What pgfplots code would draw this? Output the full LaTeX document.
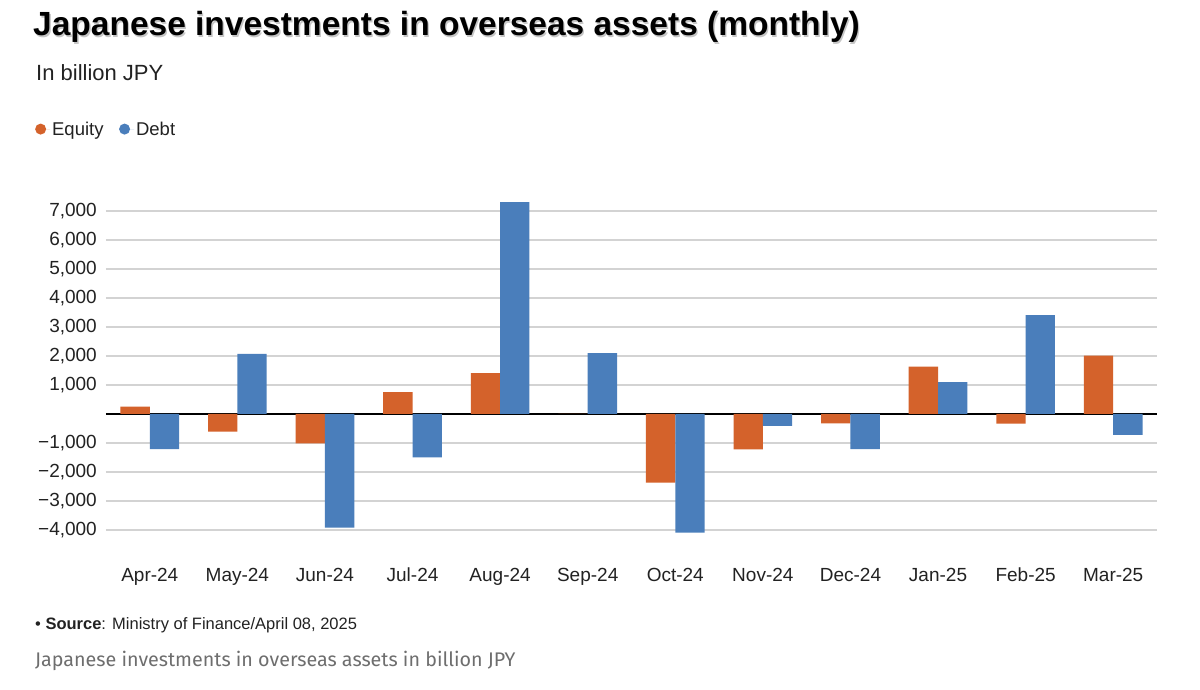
\documentclass[border=0pt]{standalone}
\usepackage{pgfplots}
\pgfplotsset{compat=1.18}
\usepackage{fontspec}
\setmainfont{Liberation Sans}
\newfontfamily\capfont{Fira Sans}
\definecolor{eqc}{HTML}{D4622B}
\definecolor{dbc}{HTML}{4A7EBB}
\definecolor{gridc}{HTML}{D3D3D3}
\definecolor{txt}{HTML}{222222}
\definecolor{capc}{HTML}{6E6E6E}
\begin{document}
\begin{tikzpicture}[x=1pt,y=1pt]
\fill[white] (0,0) rectangle (1200,690);
% title and texts
\node[anchor=base west,inner sep=0pt,text=gray!45] at (34.3,652.7) {\fontsize{33.5}{40}\selectfont\bfseries Japanese investments in overseas assets (monthly)};
\node[anchor=base west,inner sep=0pt,text=black] at (33,654) {\fontsize{33.5}{40}\selectfont\bfseries Japanese investments in overseas assets (monthly)};
\node[anchor=base west,inner sep=0pt,text=txt] at (36,609) {\fontsize{22}{26}\selectfont In billion JPY};
\node[anchor=base west,inner sep=0pt,text=txt] at (35,60) {\fontsize{16.5}{20}\selectfont \textbullet\ \textbf{Source}: Ministry of Finance/April 08, 2025};
\node[anchor=base west,inner sep=0pt,text=capc] at (35,23) {\fontsize{19.7}{24}\selectfont\capfont Japanese investments in overseas assets in billion JPY};
\begin{axis}[
  at={(106pt,154.2pt)}, anchor=south west,
  scale only axis, width=1051pt, height=336.4pt,
  ybar=0pt, bar width=29.3pt,
  xmin=-0.5, xmax=11.5, ymin=-4200, ymax=7400,
  axis line style={draw=none}, major tick length=0pt, tick style={draw=none},
  xtick=data,
  xticklabels={Apr-24,May-24,Jun-24,Jul-24,Aug-24,Sep-24,Oct-24,Nov-24,Dec-24,Jan-25,Feb-25,Mar-25},
  ytick={-4000,-3000,-2000,-1000,1000,2000,3000,4000,5000,6000,7000},
  yticklabels={{−4,000},{−3,000},{−2,000},{−1,000},{1,000},{2,000},{3,000},{4,000},{5,000},{6,000},{7,000}},
  ticklabel style={font=\fontsize{19}{22}\selectfont, text=txt, inner sep=0pt},
  yticklabel style={xshift=-9pt},
  xticklabel style={yshift=-32pt},
  ymajorgrids, grid style={gridc, line width=1.4pt},
  extra y ticks={0}, extra y tick labels={},
  extra y tick style={grid style={black, line width=1.3pt}},
  legend image code/.code={\fill[#1] (5.5pt,0pt) circle (5.5pt); \path (0pt,0pt) -- (15pt,0pt);},
  legend style={at={(axis description cs:-0.0676,1.209)}, anchor=west, draw=none, fill=none,
     inner sep=0pt, legend columns=2, font=\fontsize{18.5}{22}\selectfont, text=txt,
     /tikz/every even column/.append style={column sep=13.5pt},
     legend cell align=left},
]
\addplot[fill=eqc, draw=none] coordinates {(0,250) (1,-610) (2,-1010) (3,750) (4,1410) (5,0) (6,-2370) (7,-1220) (8,-320) (9,1630) (10,-330) (11,2010)};
\addplot[fill=dbc, draw=none] coordinates {(0,-1210) (1,2070) (2,-3920) (3,-1500) (4,7310) (5,2100) (6,-4090) (7,-410) (8,-1210) (9,1100) (10,3410) (11,-720)};
\legend{Equity,Debt}
\end{axis}
\end{tikzpicture}
\end{document}
